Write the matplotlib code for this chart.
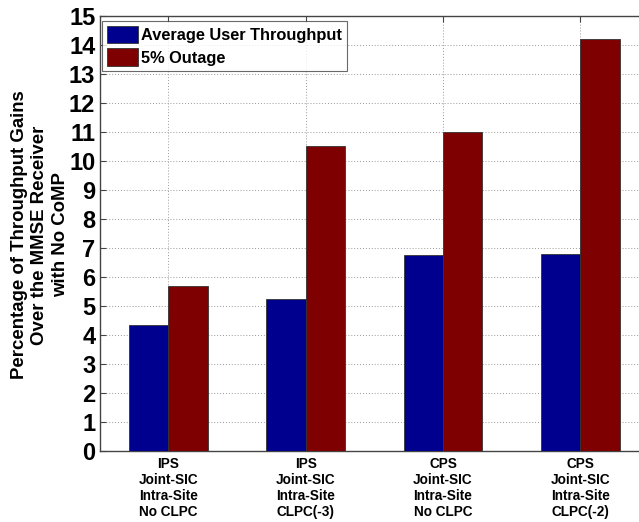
import numpy as np
import matplotlib
matplotlib.use("Agg")
import matplotlib.pyplot as plt

# Chart data
groups = [
    "IPS\nJoint-SIC\nIntra-Site\nNo CLPC",
    "IPS\nJoint-SIC\nIntra-Site\nCLPC(-3)",
    "CPS\nJoint-SIC\nIntra-Site\nNo CLPC",
    "CPS\nJoint-SIC\nIntra-Site\nCLPC(-2)",
]
avg_throughput = [4.35, 5.25, 6.75, 6.8]
outage_5pct = [5.68, 10.5, 11.0, 14.2]
series_names = ["Average User Throughput", "5% Outage"]
yticks = list(range(0, 16))

plt.rcParams["font.family"] = "Liberation Sans"
plt.rcParams["font.weight"] = "bold"

fig = plt.figure(figsize=(6.39, 5.22), dpi=100)
ax = fig.add_axes([99.5 / 639, 71 / 522, 549.5 / 639, 435 / 522])

x = np.arange(1, len(groups) + 1)
w = 0.287
blue = "#00008f"
red = "#7f0000"
ax.bar(x - w / 2, avg_throughput, w, color=blue, edgecolor="#333333", linewidth=0.6,
       label=series_names[0], zorder=3)
ax.bar(x + w / 2, outage_5pct, w, color=red, edgecolor="#333333", linewidth=0.6,
       label=series_names[1], zorder=3)

ax.set_xlim(0.5, 4.5)
ax.set_ylim(0, 15)
ax.set_yticks(yticks)
ax.set_yticklabels([str(t) for t in yticks], fontsize=17, fontweight="bold")
ax.set_xticks(x)
ax.set_xticklabels(groups, fontsize=9.8, fontweight="bold", linespacing=1.2)

ax.tick_params(axis="both", direction="in", length=4, width=0.8, color="#444444",
               top=True, right=False)
ax.tick_params(axis="y", pad=3)
ax.tick_params(axis="x", pad=4)
ax.grid(True, linestyle=(0, (1, 2)), color="#999999", linewidth=0.7, zorder=0)
ax.set_axisbelow(True)
for sp in ax.spines.values():
    sp.set_color("#444444")
    sp.set_linewidth(1.0)

fig.text(40 / 639, 1 - 235 / 522,
         "Percentage of Throughput Gains\nOver the MMSE Receiver\nwith No CoMP",
         rotation=90, ha="center", va="center", fontsize=13.4,
         fontweight="bold", linespacing=1.3)

leg = ax.legend(loc="upper left", bbox_to_anchor=(0.004, 0.988),
                prop={"weight": "bold", "size": 11.8},
                frameon=True, fancybox=False, edgecolor="#444444",
                handlelength=1.9, handleheight=1.25, handletextpad=0.2,
                borderpad=0.3, labelspacing=0.3, borderaxespad=0.0)
leg.get_frame().set_linewidth(0.8)

fig.savefig("out.png", dpi=100)
